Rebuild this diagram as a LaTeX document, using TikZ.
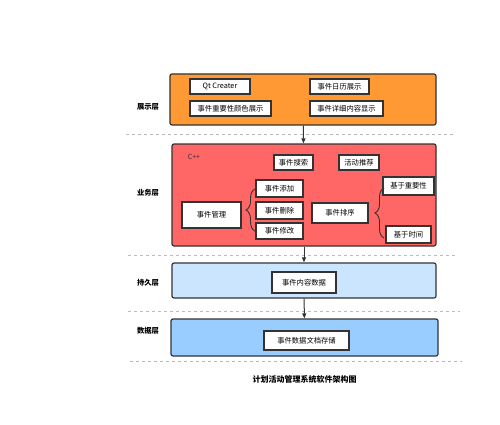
\documentclass[tikz,border=0pt]{standalone}
\usepackage{fontspec}
\setmainfont{Noto Sans CJK SC}
\usetikzlibrary{arrows.meta,decorations.pathreplacing}
\definecolor{showfill}{HTML}{FF9933}
\definecolor{bizfill}{HTML}{FF6666}
\definecolor{keepfill}{HTML}{CCE5FF}
\definecolor{datafill}{HTML}{99CCFF}
\definecolor{edge}{HTML}{333333}
\definecolor{sepgray}{HTML}{BBBBBB}
\begin{document}
\begin{tikzpicture}[x=1pt, y=-1pt,
    layer/.style={draw=edge, line width=1.2pt, rounded corners=2pt, inner sep=0pt},
    item/.style={draw=edge, fill=white, line width=1.2pt, inner sep=0pt,
        font=\fontsize{7.3}{8}\selectfont},
    side/.style={font=\fontsize{7.3}{8}\selectfont\bfseries},
    sep/.style={draw=sepgray, dashed, line width=0.6pt},
    flow/.style={draw=edge, line width=1pt, -{Triangle[length=5pt,width=4pt]}},
    curl/.style={draw=edge, line width=0.9pt, decorate}]
    \useasboundingbox (0,0) rectangle (500,425);
    % layers
    \node[layer, fill=showfill, minimum width=266pt, minimum height=51pt] (show) at (303,99.5) {};
    \node[layer, fill=bizfill, minimum width=264pt, minimum height=102pt] (biz) at (304,195) {};
    \node[layer, fill=keepfill, minimum width=264pt, minimum height=35pt] (keep) at (304,280.5) {};
    \node[layer, fill=datafill, minimum width=267pt, minimum height=37pt] (data) at (304.5,337.5) {};
    % layer names
    \node[side] (showname) at (148,107) {展示层};
    \node[side] (bizname) at (148,193) {业务层};
    \node[side] (keepname) at (148,283) {持久层};
    \node[side] (dataname) at (148,331) {数据层};
    % separators
    \draw[sep] (126,134) -- (456,134);
    \draw[sep] (128,255) -- (458,255);
    \draw[sep] (128,311) -- (460,311);
    \draw[sep] (130,361) -- (462,361);
    % show layer
    \node[item, minimum width=60pt, minimum height=15pt] (qt) at (220,86.5) {Qt Creater};
    \node[item, minimum width=59pt, minimum height=15pt] (calendar) at (339.5,86.5) {事件日历展示};
    \node[item, minimum width=81pt, minimum height=15pt] (colour) at (230.5,108.5) {事件重要性颜色展示};
    \node[item, minimum width=73pt, minimum height=15pt] (detail) at (346.5,108.5) {事件详细内容显示};
    % business layer
    \node[font=\fontsize{7}{8}\selectfont, text=edge] (cpp) at (194,157) {C++};
    \node[item, minimum width=39pt, minimum height=15pt] (search) at (293.5,162.5) {事件搜索};
    \node[item, minimum width=40pt, minimum height=15pt] (recommend) at (359,162.5) {活动推荐};
    \node[item, minimum width=59pt, minimum height=26pt] (manage) at (211.5,215) {事件管理};
    \node[item, minimum width=47pt, minimum height=17pt] (add) at (279.5,188.5) {事件添加};
    \node[item, minimum width=47pt, minimum height=17pt] (delete) at (279.5,210.5) {事件删除};
    \node[item, minimum width=47pt, minimum height=16pt] (modify) at (279.5,231) {事件修改};
    \node[item, minimum width=56pt, minimum height=20pt] (sort) at (340,213) {事件排序};
    \node[item, minimum width=51pt, minimum height=18pt] (byweight) at (408.5,186) {基于重要性};
    \node[item, minimum width=45pt, minimum height=17pt] (bytime) at (408.5,234.5) {基于时间};
    \draw[curl, decoration={brace, amplitude=9pt}] (255,231) -- (255,189);
    \draw[curl, decoration={brace, amplitude=9pt}] (384,238) -- (384,188);
    % keep and data layers
    \node[item, minimum width=64pt, minimum height=21pt] (content) at (304,282.5) {事件内容数据};
    \node[item, minimum width=85pt, minimum height=19pt] (store) at (306.5,340.5) {事件数据文档存储};
    % flow
    \draw[flow] (show) -- (biz);
    \draw[flow] (biz) -- (keep);
    \draw[flow] (keep) -- (data);
    \node[font=\fontsize{8}{9}\selectfont\bfseries] (caption) at (304.5,379) {计划活动管理系统软件架构图};
\end{tikzpicture}
\end{document}
